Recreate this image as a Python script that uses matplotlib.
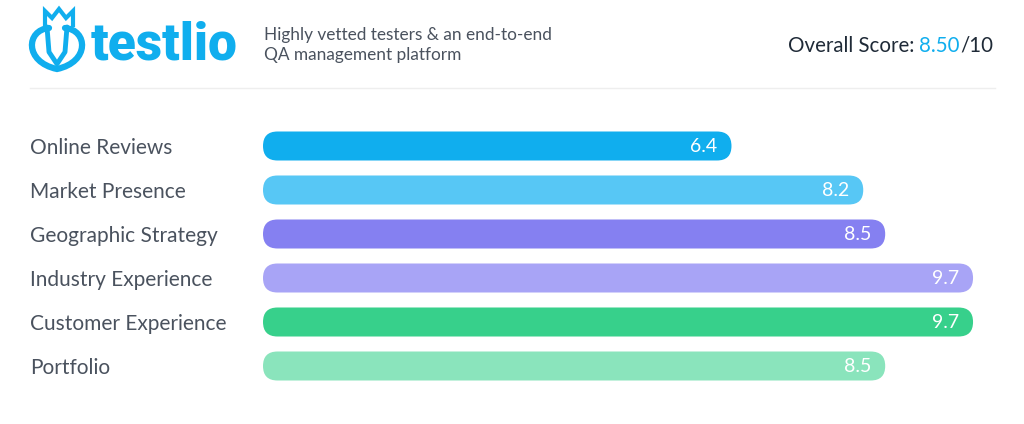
import matplotlib
matplotlib.use("Agg")
import matplotlib.pyplot as plt
from matplotlib.patches import FancyBboxPatch, PathPatch
from matplotlib.path import Path
from matplotlib.transforms import blended_transform_factory

# data
categories = ["Online Reviews", "Market Presence", "Geographic Strategy",
              "Industry Experience", "Customer Experience", "Portfolio"]
scores = [6.4, 8.2, 8.5, 9.7, 9.7, 8.5]
colors = ["#10AEEE", "#57C7F5", "#8580F1", "#A8A4F6", "#37D08B", "#8AE4BC"]
overall = "8.50"
tagline = "Highly vetted testers & an end-to-end\nQA management platform"

W, H = 1024, 424
BLUE = "#10AEEE"
DARK = "#1F2A37"
GREY = "#4A525E"

plt.rcParams["font.family"] = ["Lato", "DejaVu Sans"]

fig = plt.figure(figsize=(W / 100, H / 100), dpi=100)
fig.patch.set_facecolor("white")

# overlay in pixel coords for the header
hdr = fig.add_axes([0, 0, 1, 1])
hdr.set_xlim(0, W)
hdr.set_ylim(H, 0)
hdr.axis("off")

# logo icon (crown + heart shape)
crown = [(45, 25), (45, 11), (52, 18), (59, 9), (66, 18), (73, 11), (73, 25)]
hdr.plot(*zip(*crown), color=BLUE, lw=3, solid_joinstyle="miter")
verts = [(49, 28), (26, 30), (24, 62), (57, 69),
         (90, 62), (88, 30), (65, 28)]
codes = [Path.MOVETO, Path.CURVE4, Path.CURVE4, Path.CURVE4,
         Path.CURVE4, Path.CURVE4, Path.CURVE4]
hdr.add_patch(PathPatch(Path(verts, codes), fill=False, ec=BLUE, lw=4.5,
                        capstyle="round"))
hdr.plot([47, 49, 57, 65, 67], [27, 52, 64, 52, 27], color=BLUE, lw=3.5,
         solid_capstyle="round")

hdr.text(91, 45, "testlio", color=BLUE, fontsize=37, fontweight="black",
         family=["Roboto", "DejaVu Sans"], va="center", ha="left")

hdr.text(264, 45, tagline, color=GREY, fontsize=12.4,
         va="center", ha="left", linespacing=1.3)

t1 = hdr.text(993, 46, "/10", color=DARK, fontsize=14.8, va="center", ha="right")
t2 = hdr.annotate(overall, xy=(0, 0), xycoords=t1, color=BLUE, fontsize=14.8,
                  va="bottom", ha="right")
hdr.annotate("Overall Score: ", xy=(0, 0), xycoords=t2, color=DARK,
             fontsize=14.8, va="bottom", ha="right")

hdr.plot([30, 995], [88, 88], color="#EEEEEE", lw=1)

# bars
x0, x1 = 263, 995
row_h = 44
top = 124
ax = fig.add_axes([x0 / W, 1 - (top + row_h * len(scores)) / H,
                   (x1 - x0) / W, row_h * len(scores) / H])
ax.set_xlim(0, 10)
ax.set_ylim(len(scores) - 0.5, -0.5)
ax.axis("off")

px_x = 10 / (x1 - x0)      # data x per pixel
px_y = 1 / row_h           # data y per pixel
bar_h = 29 * px_y
radius = 14.5 * px_x
aspect = px_y / px_x

lab_tr = blended_transform_factory(fig.transFigure, ax.transData)
for i, (cat, val, c) in enumerate(zip(categories, scores, colors)):
    ax.add_patch(FancyBboxPatch((0, i - bar_h / 2), val, bar_h,
                                boxstyle=f"round,pad=0,rounding_size={radius}",
                                mutation_aspect=aspect, fc=c, ec="none"))
    ax.text(val - 14 * px_x, i + 0.02, f"{val:.1f}", color="white",
            fontsize=14, ha="right", va="center")
    ax.text(30 / W, i + 0.04, cat, transform=lab_tr, color=GREY,
            fontsize=15, ha="left", va="center")

fig.savefig("out.png", dpi=100, facecolor="white")
